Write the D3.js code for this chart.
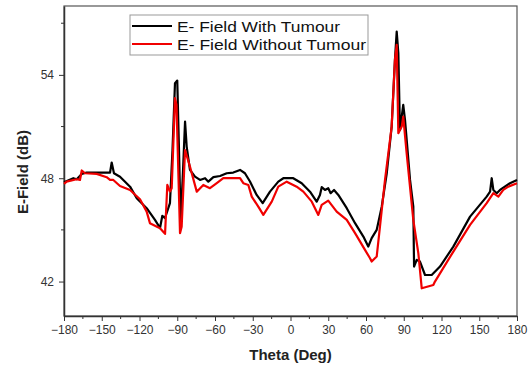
<!DOCTYPE html>
<html>
<head>
<meta charset="utf-8">
<script src="https://cdn.jsdelivr.net/npm/d3@7"></script>
<style>
  body { margin: 0; background: #fff; }
  text { font-family: "Liberation Sans", Arial, sans-serif; }
</style>
</head>
<body>
<div id="chart"></div>
<script>
// E-field with tumour (black)
const thetaWith = [-180, -172.6, -169.9, -165.9, -161.9, -143.4, -142.1, -140.3, -135.5, -127.5, -122.2, -114.3, -107.7, -103.7, -101.9, -99.7, -95.8, -93.8, -91.8, -90.0, -88.6, -87.3, -85.4, -83.8, -82.5, -79.9, -75.9, -71.9, -67.9, -65.3, -61.3, -56.0, -50.7, -45.5, -40.1, -36.2, -32.2, -26.9, -22.1, -16.3, -9.7, -5.7, 2.2, 8.9, 15.5, 20.8, 23.4, 24.8, 27.4, 30.0, 31.9, 34.6, 38.0, 44.7, 51.3, 57.9, 61.8, 64.5, 68.5, 72.5, 76.5, 80.4, 83.0, 84.4, 85.7, 87.0, 89.6, 91.0, 95.0, 97.6, 98.2, 100.3, 102.9, 106.9, 112.2, 118.8, 129.4, 142.7, 155.9, 158.6, 159.9, 161.2, 163.9, 166.5, 174.4, 180];
const eWith = [47.76, 48.0, 47.94, 48.25, 48.33, 48.33, 48.91, 48.29, 48.09, 47.51, 46.84, 46.26, 45.58, 45.11, 45.81, 45.69, 46.55, 49.6, 53.52, 53.67, 49.64, 45.46, 48.48, 51.29, 49.84, 48.48, 48.09, 47.9, 48.0, 47.8, 48.06, 48.13, 48.29, 48.33, 48.48, 48.29, 47.81, 47.03, 46.55, 47.22, 47.8, 48.0, 48.0, 47.71, 47.22, 46.64, 47.03, 47.48, 47.32, 47.42, 47.13, 47.32, 47.03, 46.26, 45.39, 44.61, 44.03, 44.52, 45.0, 46.35, 48.29, 51.0, 54.87, 56.51, 55.26, 50.8, 52.26, 51.39, 47.9, 46.35, 42.87, 43.26, 43.16, 42.38, 42.38, 42.87, 44.03, 45.77, 46.93, 47.22, 48.0, 47.32, 47.13, 47.32, 47.71, 47.9];

// E-field without tumour (red)
const thetaWithout = [-180, -177.9, -169.9, -167.3, -165.9, -163.3, -154.0, -146.1, -143.4, -140.8, -135.5, -127.5, -119.6, -114.3, -111.7, -103.7, -99.7, -97.9, -95.8, -94.4, -91.8, -90.6, -87.8, -86.5, -83.8, -79.9, -74.5, -69.3, -64.0, -58.6, -53.4, -40.1, -37.5, -33.5, -30.8, -25.6, -21.6, -14.9, -9.7, -3.0, 4.9, 10.2, 16.9, 22.1, 24.8, 30.0, 36.7, 44.7, 51.3, 59.2, 63.2, 64.5, 68.5, 71.1, 75.1, 80.4, 83.0, 84.4, 85.7, 88.4, 89.6, 92.3, 97.6, 101.6, 104.3, 113.5, 114.8, 129.4, 142.7, 155.9, 161.2, 165.2, 169.1, 173.1, 180];
const eWithout = [47.67, 47.8, 47.94, 47.9, 48.45, 48.29, 48.25, 48.06, 47.9, 47.9, 47.55, 47.32, 46.78, 46.06, 45.39, 45.1, 44.77, 47.61, 47.23, 47.42, 52.65, 52.26, 44.81, 45.19, 49.64, 48.67, 47.22, 47.61, 47.42, 47.71, 48.0, 48.0, 47.71, 47.61, 46.93, 46.35, 45.87, 46.64, 47.51, 47.8, 47.51, 47.22, 46.64, 45.87, 46.45, 46.7, 46.06, 45.58, 44.81, 43.84, 43.35, 43.16, 43.45, 45.19, 47.9, 51.0, 54.87, 55.74, 50.61, 51.0, 51.58, 49.45, 45.58, 43.64, 41.61, 41.8, 42.0, 43.74, 45.29, 46.55, 47.13, 46.93, 47.32, 47.51, 47.71];

const xTicks = [-180, -150, -120, -90, -60, -30, 0, 30, 60, 90, 120, 150, 180];
const yTicks = [42, 48, 54];
const seriesNames = ["E- Field With Tumour", "E- Field Without Tumour"];

function graficar() {
    const margin = { top: 6, right: 12, bottom: 49, left: 64 };
    const width = 529 - margin.left - margin.right;
    const height = 365 - margin.top - margin.bottom;

    const svg = d3.select("#chart")
        .append("svg")
        .attr("width", 529)
        .attr("height", 365)
        .append("g")
        .attr("transform", `translate(${margin.left},${margin.top})`);

    const xScale = d3.scaleLinear().domain([-180, 180]).range([0, width]);
    const yScale = d3.scaleLinear().domain([40, 58]).range([height, 0]);

    // marco superior y derecho
    svg.append("rect")
        .attr("x", 0).attr("y", 0)
        .attr("width", width).attr("height", height)
        .attr("fill", "none")
        .attr("stroke", "#555")
        .attr("stroke-width", 1.2);

    // ticks menores
    const xMinor = d3.range(-165, 180, 30);
    svg.selectAll(".xminor")
        .data(xMinor).enter().append("line")
        .attr("x1", d => xScale(d)).attr("x2", d => xScale(d))
        .attr("y1", height).attr("y2", height + 3)
        .attr("stroke", "#333");
    const yMinor = [45, 51, 57];
    svg.selectAll(".yminor")
        .data(yMinor).enter().append("line")
        .attr("x1", -3).attr("x2", 0)
        .attr("y1", d => yScale(d)).attr("y2", d => yScale(d))
        .attr("stroke", "#333");

    // Eje X
    const gx = svg.append("g")
        .attr("transform", `translate(0,${height})`)
        .call(d3.axisBottom(xScale).tickValues(xTicks).tickSize(5).tickSizeOuter(0).tickPadding(4));
    gx.selectAll("text").style("font-size", "12px").attr("fill", "#333")
        .attr("textLength", d => String(d).length * 6.6 + (d < 0 ? 0.6 : 0))
        .attr("lengthAdjust", "spacingAndGlyphs");

    // Eje Y
    const gy = svg.append("g")
        .call(d3.axisLeft(yScale).tickValues(yTicks).tickSize(5).tickSizeOuter(0).tickPadding(5));
    gy.selectAll("text").style("font-size", "12px").attr("fill", "#333");

    [gx, gy].forEach(g => {
        g.select(".domain").attr("stroke", "#333").attr("stroke-width", 1.5);
        g.selectAll(".tick line").attr("stroke", "#333");
    });

    // Líneas de datos
    const line = d3.line()
        .x(d => xScale(d[0]))
        .y(d => yScale(d[1]));

    svg.append("path")
        .datum(d3.zip(thetaWith, eWith))
        .attr("fill", "none")
        .attr("stroke", "black")
        .attr("stroke-width", 2.2)
        .attr("stroke-linejoin", "round")
        .attr("d", line);

    svg.append("path")
        .datum(d3.zip(thetaWithout, eWithout))
        .attr("fill", "none")
        .attr("stroke", "#f00000")
        .attr("stroke-width", 2.2)
        .attr("stroke-linejoin", "round")
        .attr("d", line);

    // Leyenda
    const leg = svg.append("g").attr("transform", `translate(${130 - margin.left},${15 - margin.top})`);
    leg.append("rect")
        .attr("width", 238).attr("height", 40)
        .attr("fill", "white")
        .attr("stroke", "#999");
    const colors = ["black", "#f00000"];
    const legLen = [163, 189];
    seriesNames.forEach((name, i) => {
        leg.append("line")
            .attr("x1", 2).attr("x2", 42)
            .attr("y1", 11 + i * 18).attr("y2", 11 + i * 18)
            .attr("stroke", colors[i]).attr("stroke-width", 2);
        leg.append("text")
            .attr("x", 47).attr("y", 16.5 + i * 18)
            .style("font-size", "15.5px")
            .attr("fill", "#111")
            .attr("textLength", legLen[i])
            .attr("lengthAdjust", "spacingAndGlyphs")
            .text(name);
    });

    // Títulos
    svg.append("text")
        .attr("x", xScale(0)).attr("y", height + 44)
        .attr("text-anchor", "middle")
        .style("font-size", "15px").style("font-weight", "bold")
        .attr("fill", "#222")
        .text("Theta (Deg)");

    svg.append("text")
        .attr("transform", `translate(${28 - margin.left},${172 - margin.top}) rotate(-90)`)
        .attr("text-anchor", "middle")
        .style("font-size", "15px").style("font-weight", "bold")
        .attr("fill", "#222")
        .text("E-Field (dB)");
}

graficar();
</script>
</body>
</html>
